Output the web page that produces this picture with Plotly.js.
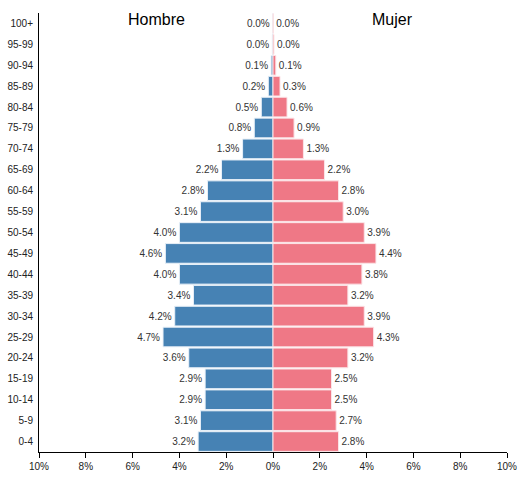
<!DOCTYPE html>
<html>
<head>
<meta charset="utf-8">
<script src="https://cdn.plot.ly/plotly-3.0.1.min.js"></script>
<style>
  html, body { margin: 0; padding: 0; background: #fff; }
  #chart { width: 526px; height: 480px; }
</style>
</head>
<body>
<div id="chart"></div>
<script>
// age groups, bottom to top
const ageGroups = ['0-4', '5-9', '10-14', '15-19', '20-24', '25-29', '30-34', '35-39', '40-44', '45-49',
                   '50-54', '55-59', '60-64', '65-69', '70-74', '75-79', '80-84', '85-89', '90-94', '95-99', '100+'];

// percent of population
const hombre = [3.2, 3.1, 2.9, 2.9, 3.6, 4.7, 4.2, 3.4, 4.0, 4.6,
                4.0, 3.1, 2.8, 2.2, 1.3, 0.8, 0.5, 0.2, 0.08, 0.03, 0.01];
const mujer  = [2.8, 2.7, 2.5, 2.5, 3.2, 4.3, 3.9, 3.2, 3.8, 4.4,
                3.9, 3.0, 2.8, 2.2, 1.3, 0.9, 0.6, 0.3, 0.12, 0.04, 0.01];

const xTicks = [-10, -8, -6, -4, -2, 0, 2, 4, 6, 8, 10];
const xTickText = xTicks.map(v => Math.abs(v) + '%');

const font = 'Liberation Sans, Arial, sans-serif';
const pct = v => v.toFixed(1) + '%';

const traces = [
  {
    type: 'bar',
    orientation: 'h',
    name: 'Hombre',
    y: ageGroups,
    x: hombre.map(v => -v),
    text: hombre.map(pct),
    textposition: 'outside',
    constraintext: 'none',
    cliponaxis: false,
    textfont: { family: font, size: 10, color: '#333' },
    marker: { color: '#4682b4', line: { color: '#e8f0f8', width: 1 } },
    hoverinfo: 'none'
  },
  {
    type: 'bar',
    orientation: 'h',
    name: 'Mujer',
    y: ageGroups,
    x: mujer,
    text: mujer.map(pct),
    textposition: 'outside',
    constraintext: 'none',
    cliponaxis: false,
    textfont: { family: font, size: 10, color: '#333' },
    marker: { color: '#ef7886', line: { color: '#fbe4e7', width: 1 } },
    hoverinfo: 'none'
  }
];

const layout = {
  width: 526,
  height: 480,
  margin: { l: 39, r: 19, t: 13, b: 28 },
  paper_bgcolor: '#fff',
  plot_bgcolor: '#fff',
  barmode: 'overlay',
  bargap: 0.06,
  showlegend: false,
  font: { family: font, size: 10, color: '#222' },
  xaxis: {
    range: [-10, 10],
    tickvals: xTicks,
    ticktext: xTickText,
    ticks: 'outside',
    ticklen: 5,
    tickcolor: '#000',
    showline: true,
    linecolor: '#000',
    linewidth: 1,
    showgrid: false,
    zeroline: false,
    tickfont: { family: font, size: 10, color: '#222' },
    fixedrange: true
  },
  yaxis: {
    type: 'category',
    range: [-0.5, 20.5],
    showline: true,
    linecolor: '#000',
    linewidth: 1,
    showgrid: false,
    zeroline: false,
    ticks: '',
    ticklabelstandoff: 3,
    tickfont: { family: font, size: 10, color: '#222' },
    fixedrange: true
  },
  annotations: [
    { text: 'Hombre', xref: 'paper', yref: 'paper', x: 0.251, y: 0.985,
      xanchor: 'center', yanchor: 'middle', showarrow: false,
      font: { family: font, size: 16, color: '#000' } },
    { text: 'Mujer', xref: 'paper', yref: 'paper', x: 0.755, y: 0.985,
      xanchor: 'center', yanchor: 'middle', showarrow: false,
      font: { family: font, size: 16, color: '#000' } }
  ]
};

Plotly.newPlot('chart', traces, layout, { displayModeBar: false, staticPlot: true });
</script>
</body>
</html>
